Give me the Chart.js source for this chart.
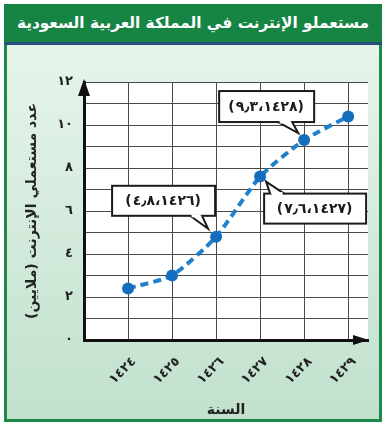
<!DOCTYPE html>
<html lang="ar">
<head>
<meta charset="utf-8">
<script src="https://cdn.jsdelivr.net/npm/chart.js@4/dist/chart.umd.min.js"></script>
<style>
    html, body { margin: 0; padding: 0; background: #ffffff; }
    #frame {
        position: absolute; left: 4px; top: 4px; width: 378px; height: 418px;
        box-sizing: border-box; border: 3px solid #1d8a4a;
        background: linear-gradient(#eaf6ee, #c1e1cd);
    }
    #title {
        position: absolute; left: 4px; top: 4px; width: 378px; height: 38px;
        background: #168544; border-bottom: 3px solid #24507f;
        color: #ffffff; font: bold 15.3px "DejaVu Sans", sans-serif;
        text-align: center; line-height: 38px; direction: rtl;
    }
    #wrap { position: absolute; left: 0; top: 0; width: 385px; height: 425px; }
</style>
</head>
<body>
<div id="frame"></div>
<div id="title">مستعملو الإنترنت في المملكة العربية السعودية</div>
<div id="wrap"><canvas id="usersChart"></canvas></div>
<script>
const years = [1424, 1425, 1426, 1427, 1428, 1429];
const users = [2.4, 3.0, 4.8, 7.6, 9.3, 10.4];

// labelled points: index into years/users, and the text shown in the box
const calloutIndex = [2, 3, 4];
const calloutText = ['(٤٫٨،١٤٢٦)', '(٧٫٦،١٤٢٧)', '(٩٫٣،١٤٢٨)'];

const arabicDigits = '٠١٢٣٤٥٦٧٨٩';
const toArabic = (n) => String(n).replace(/\d/g, d => arabicDigits[d]);

// box placement relative to its point (dx, dy, w, h) and tail (base x1, x2, tip)
const calloutBoxes = [
    { dx: -104, dy: -51, w: 103, h: 30, edge: 'bottom', b1: -26, b2: -14, tx: -8, ty: -8 },
    { dx: 4, dy: 17, w: 102, h: 30, edge: 'top', b1: 10, b2: 24, tx: 6, ty: 5 },
    { dx: -85, dy: -49, w: 95, h: 31, edge: 'bottom', b1: -26, b2: -12, tx: -6, ty: -7 },
];

const plotBackground = {
    id: 'plotBackground',
    beforeDraw(chart) {
        const { ctx, chartArea: a } = chart;
        ctx.save();
        ctx.fillStyle = '#ffffff';
        ctx.fillRect(a.left, a.top, a.right - a.left, a.bottom - a.top);
        ctx.restore();
    },
};

const axisArrows = {
    id: 'axisArrows',
    afterDatasetsDraw(chart) {
        const { ctx, chartArea: a } = chart;
        ctx.save();
        ctx.fillStyle = '#111111';
        ctx.beginPath();
        ctx.moveTo(a.left, a.top - 3);
        ctx.lineTo(a.left - 6, a.top + 14);
        ctx.lineTo(a.left + 6, a.top + 14);
        ctx.closePath();
        ctx.fill();
        ctx.beginPath();
        ctx.moveTo(a.right + 1, a.bottom);
        ctx.lineTo(a.right - 15, a.bottom - 5);
        ctx.lineTo(a.right - 15, a.bottom + 5);
        ctx.closePath();
        ctx.fill();
        ctx.restore();
    },
};

const callouts = {
    id: 'callouts',
    afterDatasetsDraw(chart) {
        const { ctx, scales } = chart;
        ctx.save();
        calloutIndex.forEach((idx, i) => {
            const px = scales.x.getPixelForValue(years[idx]);
            const py = scales.y.getPixelForValue(users[idx]);
            const b = calloutBoxes[i];
            const x = px + b.dx, y = py + b.dy;
            const ey = b.edge === 'bottom' ? y + b.h : y;
            ctx.fillStyle = '#ffffff';
            ctx.strokeStyle = '#1a1a1a';
            ctx.lineWidth = 2;
            ctx.fillRect(x, y, b.w, b.h);
            ctx.strokeRect(x, y, b.w, b.h);
            // tail
            ctx.beginPath();
            ctx.moveTo(px + b.b1, ey);
            ctx.lineTo(px + b.tx, py + b.ty);
            ctx.lineTo(px + b.b2, ey);
            ctx.closePath();
            ctx.fill();
            ctx.beginPath();
            ctx.moveTo(px + b.b1, ey);
            ctx.lineTo(px + b.tx, py + b.ty);
            ctx.lineTo(px + b.b2, ey);
            ctx.stroke();
            ctx.fillStyle = '#ffffff';
            ctx.fillRect(px + Math.min(b.b1, b.b2) + 1.5, ey - 1.5, Math.abs(b.b2 - b.b1) - 3, 3);
            ctx.fillStyle = '#1a1a1a';
            ctx.font = 'bold 14px "DejaVu Sans", sans-serif';
            ctx.letterSpacing = '1px';
            ctx.textAlign = 'center';
            ctx.textBaseline = 'middle';
            ctx.fillText(calloutText[i], x + b.w / 2, y + b.h / 2 + 1);
        });
        ctx.restore();
    },
};

const ctx = document.getElementById('usersChart').getContext('2d');
new Chart(ctx, {
    type: 'line',
    data: {
        datasets: [
            {
                data: years.map((yr, i) => ({ x: yr, y: users[i] })),
                borderColor: '#1f80cc',
                borderWidth: 4,
                borderDash: [8, 5],
                tension: 0.2,
                pointRadius: 6,
                pointBackgroundColor: '#156dbd',
                pointBorderWidth: 0,
            },
        ],
    },
    options: {
        responsive: true,
        maintainAspectRatio: false,
        animation: false,
        layout: { padding: { left: 0, top: 82, right: 17, bottom: 0 } },
        plugins: {
            legend: { display: false },
            tooltip: { enabled: false },
        },
        scales: {
            x: {
                type: 'linear',
                min: 1423,
                max: 1429.45,
                afterFit: (scale) => { scale.height = 85; },
                grid: { color: '#4a4a4a', lineWidth: 1, drawTicks: false },
                border: { color: '#111111', width: 3 },
                ticks: {
                    stepSize: 1,
                    includeBounds: false,
                    minRotation: 45,
                    maxRotation: 45,
                    padding: 14,
                    labelOffset: 6,
                    color: '#222222',
                    font: { family: '"DejaVu Sans", sans-serif', size: 13, weight: 'bold' },
                    callback: (v) => (v === 1423 ? '' : toArabic(v)),
                },
                title: {
                    display: true,
                    text: 'السنة',
                    color: '#222222',
                    padding: { bottom: 6 },
                    font: { family: '"DejaVu Sans", sans-serif', size: 14, weight: 'bold' },
                },
            },
            y: {
                min: 0,
                max: 12,
                afterFit: (scale) => { scale.width = 84; },
                grid: { color: '#4a4a4a', lineWidth: 1, drawTicks: false },
                border: { color: '#111111', width: 3 },
                ticks: {
                    stepSize: 1,
                    padding: 11,
                    color: '#222222',
                    font: { family: '"DejaVu Sans", sans-serif', size: 13, weight: 'bold' },
                    callback: (v) => (v % 2 === 0 ? toArabic(v) : ''),
                },
                title: {
                    display: true,
                    text: 'عدد مستعملي الإنترنت (ملايين)',
                    color: '#222222',
                    padding: { top: 24 },
                    font: { family: '"DejaVu Sans", sans-serif', size: 14, weight: 'bold' },
                },
            },
        },
    },
    plugins: [plotBackground, axisArrows, callouts],
});
</script>
</body>
</html>
